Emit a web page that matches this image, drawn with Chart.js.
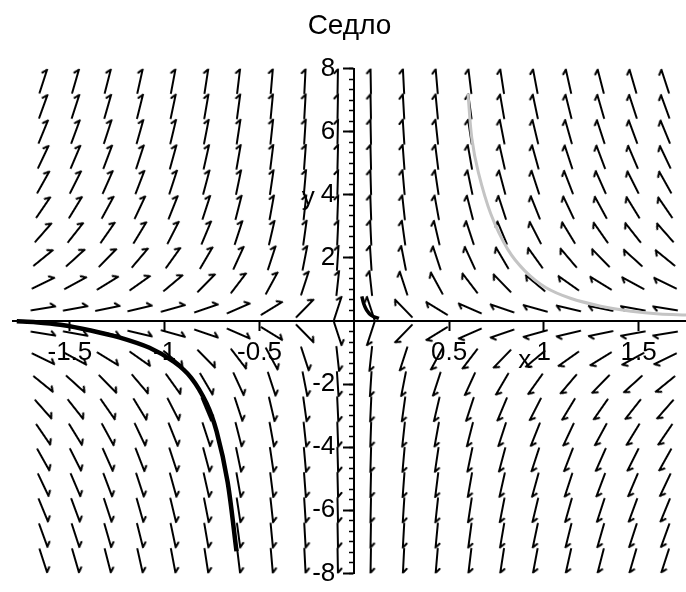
<!DOCTYPE html>
<html><head><meta charset="utf-8">
<style>html,body{margin:0;padding:0;background:#fff;} #wrap{width:686px;height:592px;position:relative;}</style>
<script src="https://cdn.jsdelivr.net/npm/chart.js@4.4.1/dist/chart.umd.min.js"></script>
</head><body><div id="wrap"><canvas id="c"></canvas></div>
<script>
// ---- data ----
const chartTitle = 'Седло';
const xAxisLabel = 'x';
const yAxisLabel = 'y';
const xRange = [-1.8, 1.75];
const yRange = [-8, 8];
const xTickValues = [-1.5, -1, -0.5, 0.5, 1, 1.5];
const xTickLabels = ['-1.5', '-1', '-0.5', '0.5', '1', '1.5'];
const yTickValues = [-8, -6, -4, -2, 2, 4, 6, 8];
const yTickLabels = ['-8', '-6', '-4', '-2', '2', '4', '6', '8'];
const yMinorStep = 1 / 3;
// direction field grid (arrow centres)
const fieldColumns = [-1.64, -1.47, -1.30, -1.13, -0.955, -0.78, -0.61, -0.435, -0.26, -0.087,
                      0.087, 0.26, 0.435, 0.61, 0.78, 0.955, 1.13, 1.30, 1.47, 1.64];
const fieldRows = [-7.6, -6.8, -6.0, -5.2, -4.4, -3.6, -2.8, -2.0, -1.2, -0.4,
                   0.4, 1.2, 2.0, 2.8, 3.6, 4.4, 5.2, 6.0, 6.8, 7.6];
// linear saddle system  [x', y'] = M [x, y]
const systemMatrix = [[-1, 0], [0, 4]];
// trajectories
const blackCurveX = [-1.78, -1.68, -1.55, -1.39, -1.24, -1.08, -0.95, -0.86, -0.78, -0.726, -0.668, -0.621];
const blackCurveY = [-0.01, -0.04, -0.12, -0.3, -0.52, -0.85, -1.3, -1.8, -2.6, -3.5, -5.1, -7.3];
const grayCurveX = [0.60, 0.62, 0.655, 0.72, 0.81, 0.90, 1.01, 1.14, 1.30, 1.46, 1.61, 1.75];
const grayCurveY = [7.2, 5.8, 4.7, 3.4, 2.27, 1.59, 1.06, 0.72, 0.47, 0.31, 0.22, 0.19];
const smallCurveX = [0.04, 0.05, 0.065, 0.09, 0.13];
const smallCurveY = [0.78, 0.55, 0.35, 0.18, 0.08];

// ---- build ----
const FONT = "'Liberation Sans', Arial, sans-serif";
function pts(xs, ys) { return xs.map((x, i) => ({x: x, y: ys[i]})); }
const fieldPoints = [];
fieldColumns.forEach(x => fieldRows.forEach(y => {
  fieldPoints.push({x: x, y: y,
    u: systemMatrix[0][0] * x + systemMatrix[0][1] * y,
    v: systemMatrix[1][0] * x + systemMatrix[1][1] * y});
}));
function makeArrow() {
  const c = document.createElement('canvas');
  c.width = 28; c.height = 12;
  const g = c.getContext('2d');
  g.strokeStyle = '#000'; g.lineWidth = 2.2; g.lineCap = 'round'; g.lineJoin = 'round';
  g.beginPath();
  g.moveTo(2, 6); g.lineTo(26, 6);
  g.moveTo(26, 6); g.lineTo(22, 2.5);
  g.stroke();
  return c;
}
const arrowImg = makeArrow();
function arrowRotation(ctx) {
  const p = ctx.raw;
  if (!p || p.u === undefined) return 0;
  const xs = ctx.chart.scales.x, ys = ctx.chart.scales.y;
  const s = 1e-3;
  const x0 = xs.getPixelForValue(p.x), y0 = ys.getPixelForValue(p.y);
  const x1 = xs.getPixelForValue(p.x + p.u * s), y1 = ys.getPixelForValue(p.y + p.v * s);
  return Math.atan2(y1 - y0, x1 - x0) * 180 / Math.PI;
}
const axisTitles = {
  id: 'axisTitles',
  afterDatasetsDraw(chart) {
    const g = chart.ctx, xs = chart.scales.x, ys = chart.scales.y;
    g.save();
    g.fillStyle = '#000';
    g.font = '26px ' + FONT;
    g.textAlign = 'center'; g.textBaseline = 'middle';
    g.fillText(xAxisLabel, xs.getPixelForValue(0.9), ys.getPixelForValue(0) + 40);
    g.fillText(yAxisLabel, xs.getPixelForValue(0) - 46, ys.getPixelForValue(3.9));
    g.restore();
  }
};
const yMinorTicks = [];
for (let v = yRange[0]; v <= yRange[1] + 1e-9; v += yMinorStep) {
  const r = Math.round(v * 1000) / 1000;
  if (Math.abs(r) > 1e-6) yMinorTicks.push(r);
}
const blankTicks = {autoSkip: false, callback: () => '', font: {size: 1}};

new Chart(document.getElementById('c'), {
  type: 'scatter',
  data: {
    datasets: [
      {label: 'field', data: fieldPoints, pointStyle: arrowImg, rotation: arrowRotation,
       pointRadius: 12, pointHoverRadius: 12, showLine: false, order: 3},
      {label: 'traj1', data: pts(blackCurveX, blackCurveY), showLine: true, borderColor: '#000',
       borderWidth: 4.5, pointRadius: 0, tension: 0.3, order: 1},
      {label: 'traj2', data: pts(grayCurveX, grayCurveY), showLine: true, borderColor: '#c4c4c4',
       borderWidth: 3, pointRadius: 0, tension: 0.3, order: 2},
      {label: 'traj3', data: pts(smallCurveX, smallCurveY), showLine: true, borderColor: '#000',
       borderWidth: 3.5, pointRadius: 0, tension: 0.3, order: 1}
    ]
  },
  options: {
    responsive: true, maintainAspectRatio: false, animation: false,
    events: [],
    layout: {padding: {left: 13, right: 0, top: 0, bottom: 9}, autoPadding: false},
    plugins: {
      legend: {display: false}, tooltip: {enabled: false},
      title: {display: true, text: chartTitle, color: '#000',
              font: {family: FONT, size: 28, weight: 'normal'}, padding: {top: 9, bottom: 26}}
    },
    scales: {
      x: {type: 'linear', min: xRange[0], max: xRange[1], position: {y: 0},
          afterBuildTicks: s => { s.ticks = xTickValues.map(v => ({value: v})); },
          ticks: {autoSkip: false, maxRotation: 0, color: '#000', padding: 7,
                  font: {family: FONT, size: 26},
                  callback: v => { const i = xTickValues.indexOf(v); return i >= 0 ? xTickLabels[i] : ''; }},
          grid: {drawOnChartArea: false, drawTicks: true, tickLength: 9, color: '#000', tickWidth: 2},
          border: {display: true, color: '#000', width: 2}},
      y: {type: 'linear', min: yRange[0], max: yRange[1], position: {x: 0},
          afterBuildTicks: s => { s.ticks = yTickValues.map(v => ({value: v})); },
          ticks: blankTicks,
          grid: {drawOnChartArea: false, drawTicks: true, tickLength: 10, color: '#000', tickWidth: 2},
          border: {display: true, color: '#000', width: 2}},
      yMinor: {type: 'linear', axis: 'y', min: yRange[0], max: yRange[1], position: {x: 0},
          afterBuildTicks: s => { s.ticks = yMinorTicks.map(v => ({value: v})); },
          ticks: blankTicks,
          grid: {drawOnChartArea: false, drawTicks: true, tickLength: 5, color: '#000', tickWidth: 1.5},
          border: {display: false}},
      yLabels: {type: 'linear', axis: 'y', min: yRange[0], max: yRange[1], position: {x: -0.1},
          afterBuildTicks: s => { s.ticks = yTickValues.map(v => ({value: v})); },
          ticks: {autoSkip: false, color: '#000', font: {family: FONT, size: 26},
                  callback: v => { const i = yTickValues.indexOf(v); return i >= 0 ? yTickLabels[i] : ''; }},
          grid: {display: false, drawOnChartArea: false, drawTicks: false},
          border: {display: false}}
    }
  },
  plugins: [axisTitles]
});
</script></body></html>
